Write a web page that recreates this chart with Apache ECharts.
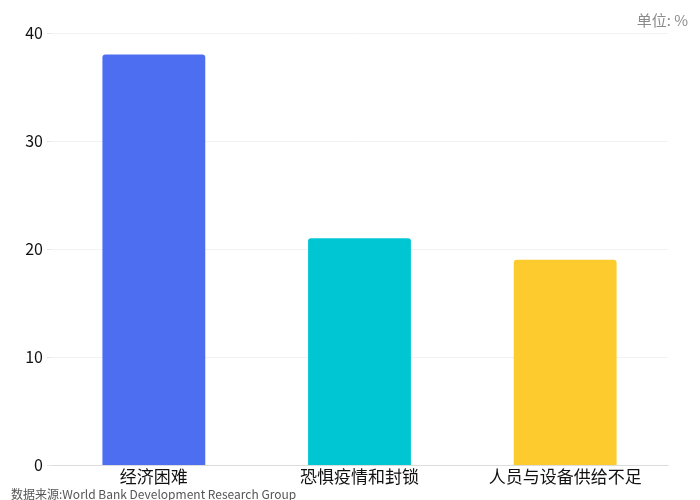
<!DOCTYPE html>
<html>
<head>
<meta charset="utf-8">
<script src="https://cdn.jsdelivr.net/npm/echarts@6/dist/echarts.min.js"></script>
<style>
  html, body { margin: 0; padding: 0; background: #fff; }
  #main { width: 700px; height: 500px; }
</style>
</head>
<body>
<div id="main"></div>
<script>
// data
const categories = ['经济困难', '恐惧疫情和封锁', '人员与设备供给不足'];
const values = [38, 21, 19];
const barColors = ['#4D6EF1', '#00C6D3', '#FDCB2E'];
const yTicks = [0, 10, 20, 30, 40];

const chartDom = document.getElementById('main');
const myChart = echarts.init(chartDom);

const option = {
  backgroundColor: '#fff',
  textStyle: { fontFamily: '"Noto Sans CJK SC", "Noto Sans", sans-serif' },
  graphic: [
    {
      type: 'text',
      right: 12,
      top: 13,
      style: { text: '单位: %', fontSize: 15, fill: '#8a8a8a', fontFamily: '"Noto Sans CJK SC", sans-serif' }
    },
    {
      type: 'text',
      left: 11,
      bottom: 0,
      style: { text: '数据来源:World Bank Development Research Group', fontSize: 12, fill: '#555', fontFamily: '"Noto Sans CJK SC", sans-serif' }
    }
  ],
  grid: { left: 51, right: 32, top: 33, bottom: 35 },
  xAxis: {
    type: 'category',
    data: categories,
    axisLine: { lineStyle: { color: '#dcdcdc' } },
    axisTick: { show: false },
    axisLabel: { color: '#111', fontSize: 17, margin: 3 }
  },
  yAxis: {
    type: 'value',
    min: yTicks[0],
    max: yTicks[yTicks.length - 1],
    interval: 10,
    axisLine: { show: false },
    axisTick: { show: true, length: 4, lineStyle: { color: '#e6e6e6' } },
    axisLabel: { color: '#111', fontSize: 16, margin: 8 },
    splitLine: { lineStyle: { color: '#f2f2f2' } }
  },
  series: [
    {
      type: 'bar',
      barWidth: '50%',
      data: values.map((v, i) => ({ value: v, itemStyle: { color: barColors[i] } })),
      itemStyle: { borderRadius: [3, 3, 0, 0] }
    }
  ]
};

myChart.setOption(option);
</script>
</body>
</html>
